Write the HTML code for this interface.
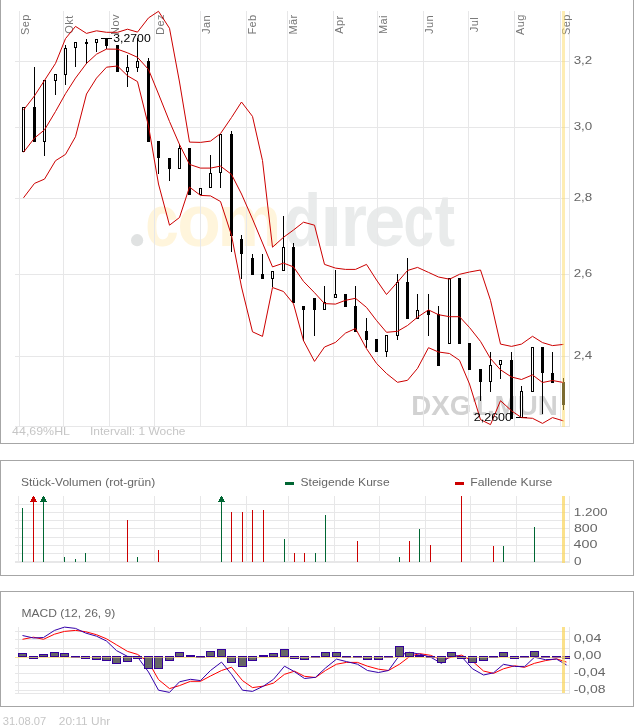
<!DOCTYPE html>
<html lang="de"><head><meta charset="utf-8"><title>DXG1.MUN Chart</title>
<style>html,body{margin:0;padding:0;background:#fff}svg{display:block}text{font-family:"Liberation Sans",Arial,sans-serif}</style>
</head><body>
<svg width="634" height="728" viewBox="0 0 634 728">
<rect x="0" y="0" width="634" height="728" fill="#fff"/>
<circle cx="137.1" cy="240.2" r="6.1" fill="#e0e2e2"/>
<text y="245.8" font-weight="bold" font-size="74"><tspan fill="#fff5dc"><tspan x="145.3" textLength="33.5" lengthAdjust="spacingAndGlyphs">c</tspan><tspan x="177.2" textLength="43.6" lengthAdjust="spacingAndGlyphs">o</tspan><tspan x="217.2" textLength="64.3" lengthAdjust="spacingAndGlyphs">m</tspan></tspan><tspan fill="#e9ebeb"><tspan x="283.9" textLength="37.0" lengthAdjust="spacingAndGlyphs">d</tspan><tspan x="319.7" textLength="23.1" lengthAdjust="spacingAndGlyphs">i</tspan><tspan x="340.9" textLength="25.9" lengthAdjust="spacingAndGlyphs">r</tspan><tspan x="363.9" textLength="41.3" lengthAdjust="spacingAndGlyphs">e</tspan><tspan x="403.6" textLength="30.4" lengthAdjust="spacingAndGlyphs">c</tspan><tspan x="434.8" textLength="20.3" lengthAdjust="spacingAndGlyphs">t</tspan></tspan></text>
<rect x="323" y="186" width="18" height="19.5" fill="#fff"/>
<text x="411.3" y="414.5" font-size="28" font-weight="bold" fill="#d2d2d2" textLength="146.5" lengthAdjust="spacingAndGlyphs">DXG1.MUN</text>
<g shape-rendering="crispEdges">
<rect x="0" y="0" width="1" height="444" fill="#a6a6a6"/>
<rect x="633" y="0" width="1" height="444" fill="#a6a6a6"/>
<rect x="0" y="443" width="634" height="1" fill="#a6a6a6"/>
<rect x="19" y="11" width="1" height="416" fill="#e7e7e8"/>
<rect x="63" y="11" width="1" height="416" fill="#e7e7e8"/>
<rect x="109" y="11" width="1" height="416" fill="#e7e7e8"/>
<rect x="154" y="11" width="1" height="416" fill="#e7e7e8"/>
<rect x="200" y="11" width="1" height="416" fill="#e7e7e8"/>
<rect x="246" y="11" width="1" height="416" fill="#e7e7e8"/>
<rect x="287" y="11" width="1" height="416" fill="#e7e7e8"/>
<rect x="333" y="11" width="1" height="416" fill="#e7e7e8"/>
<rect x="377" y="11" width="1" height="416" fill="#e7e7e8"/>
<rect x="423" y="11" width="1" height="416" fill="#e7e7e8"/>
<rect x="468" y="11" width="1" height="416" fill="#e7e7e8"/>
<rect x="514" y="11" width="1" height="416" fill="#e7e7e8"/>
<rect x="560" y="11" width="1" height="416" fill="#e7e7e8"/>
<rect x="569" y="11" width="1" height="416" fill="#e7e7e8"/>
<rect x="15" y="61" width="555" height="1" fill="#e7e7e8"/>
<rect x="15" y="127" width="555" height="1" fill="#e7e7e8"/>
<rect x="15" y="198" width="555" height="1" fill="#e7e7e8"/>
<rect x="15" y="274" width="555" height="1" fill="#e7e7e8"/>
<rect x="15" y="356" width="555" height="1" fill="#e7e7e8"/>
<rect x="15" y="426" width="555" height="1" fill="#e7e7e8"/>
</g>
<text transform="translate(29.2,24.5) rotate(-90)" font-size="11" letter-spacing="0.4" text-anchor="middle" fill="#777777">Sep</text>
<text transform="translate(73.2,24.5) rotate(-90)" font-size="11" letter-spacing="0.4" text-anchor="middle" fill="#777777">Okt</text>
<text transform="translate(119.2,24.5) rotate(-90)" font-size="11" letter-spacing="0.4" text-anchor="middle" fill="#777777">Nov</text>
<text transform="translate(164.2,24.5) rotate(-90)" font-size="11" letter-spacing="0.4" text-anchor="middle" fill="#777777">Dez</text>
<text transform="translate(210.2,24.5) rotate(-90)" font-size="11" letter-spacing="0.4" text-anchor="middle" fill="#777777">Jan</text>
<text transform="translate(256.2,24.5) rotate(-90)" font-size="11" letter-spacing="0.4" text-anchor="middle" fill="#777777">Feb</text>
<text transform="translate(297.2,24.5) rotate(-90)" font-size="11" letter-spacing="0.4" text-anchor="middle" fill="#777777">Mär</text>
<text transform="translate(343.2,24.5) rotate(-90)" font-size="11" letter-spacing="0.4" text-anchor="middle" fill="#777777">Apr</text>
<text transform="translate(387.2,24.5) rotate(-90)" font-size="11" letter-spacing="0.4" text-anchor="middle" fill="#777777">Mai</text>
<text transform="translate(433.2,24.5) rotate(-90)" font-size="11" letter-spacing="0.4" text-anchor="middle" fill="#777777">Jun</text>
<text transform="translate(478.2,24.5) rotate(-90)" font-size="11" letter-spacing="0.4" text-anchor="middle" fill="#777777">Jul</text>
<text transform="translate(524.2,24.5) rotate(-90)" font-size="11" letter-spacing="0.4" text-anchor="middle" fill="#777777">Aug</text>
<text transform="translate(570.2,24.5) rotate(-90)" font-size="11" letter-spacing="0.4" text-anchor="middle" fill="#777777">Sep</text>
<text x="573.7" y="63.5" font-size="11.5" fill="#666666" textLength="18.6" lengthAdjust="spacingAndGlyphs">3,2</text>
<text x="573.7" y="129.5" font-size="11.5" fill="#666666" textLength="18.6" lengthAdjust="spacingAndGlyphs">3,0</text>
<text x="573.7" y="200.5" font-size="11.5" fill="#666666" textLength="18.6" lengthAdjust="spacingAndGlyphs">2,8</text>
<text x="573.7" y="276.5" font-size="11.5" fill="#666666" textLength="18.6" lengthAdjust="spacingAndGlyphs">2,6</text>
<text x="573.7" y="358.5" font-size="11.5" fill="#666666" textLength="18.6" lengthAdjust="spacingAndGlyphs">2,4</text>
<text x="12.1" y="435" font-size="11" fill="#c6c6c6" textLength="57.9" lengthAdjust="spacingAndGlyphs">44,69%HL</text>
<text x="90" y="435" font-size="11" fill="#c6c6c6" textLength="95.5" lengthAdjust="spacingAndGlyphs">Intervall: 1 Woche</text>
<g shape-rendering="crispEdges">
<rect x="23" y="107" width="1" height="45" fill="#000"/>
<rect x="22" y="107" width="3" height="45" fill="#000"/>
<rect x="23" y="108" width="1" height="43" fill="#fff"/>
<rect x="34" y="67" width="1" height="75" fill="#000"/>
<rect x="33" y="107" width="3" height="35" fill="#000"/>
<rect x="44" y="80" width="1" height="76" fill="#000"/>
<rect x="43" y="80" width="3" height="62" fill="#000"/>
<rect x="44" y="81" width="1" height="60" fill="#fff"/>
<rect x="55" y="74" width="1" height="21" fill="#000"/>
<rect x="54" y="74" width="3" height="7" fill="#000"/>
<rect x="55" y="75" width="1" height="5" fill="#fff"/>
<rect x="65" y="45" width="1" height="40" fill="#000"/>
<rect x="64" y="48" width="3" height="27" fill="#000"/>
<rect x="65" y="49" width="1" height="25" fill="#fff"/>
<rect x="75" y="42" width="1" height="25" fill="#000"/>
<rect x="74" y="42" width="3" height="6" fill="#000"/>
<rect x="75" y="43" width="1" height="4" fill="#fff"/>
<rect x="86" y="39" width="1" height="25" fill="#000"/>
<rect x="85" y="42" width="3" height="2" fill="#000"/>
<rect x="96" y="39" width="1" height="13" fill="#000"/>
<rect x="95" y="39" width="3" height="4" fill="#000"/>
<rect x="96" y="40" width="1" height="2" fill="#fff"/>
<rect x="106" y="38" width="1" height="11" fill="#000"/>
<rect x="105" y="38" width="3" height="8" fill="#000"/>
<rect x="117" y="45" width="1" height="27" fill="#000"/>
<rect x="116" y="45" width="3" height="27" fill="#000"/>
<rect x="127" y="55" width="1" height="32" fill="#000"/>
<rect x="126" y="67" width="3" height="5" fill="#000"/>
<rect x="127" y="68" width="1" height="3" fill="#fff"/>
<rect x="137" y="38" width="1" height="34" fill="#000"/>
<rect x="136" y="61" width="3" height="7" fill="#000"/>
<rect x="137" y="62" width="1" height="5" fill="#fff"/>
<rect x="148" y="58" width="1" height="84" fill="#000"/>
<rect x="147" y="61" width="3" height="81" fill="#000"/>
<rect x="158" y="141" width="1" height="33" fill="#000"/>
<rect x="157" y="141" width="3" height="17" fill="#000"/>
<rect x="169" y="158" width="1" height="23" fill="#000"/>
<rect x="168" y="158" width="3" height="11" fill="#000"/>
<rect x="179" y="144" width="1" height="25" fill="#000"/>
<rect x="178" y="148" width="3" height="21" fill="#000"/>
<rect x="179" y="149" width="1" height="19" fill="#fff"/>
<rect x="189" y="148" width="1" height="47" fill="#000"/>
<rect x="188" y="148" width="3" height="47" fill="#000"/>
<rect x="200" y="188" width="1" height="7" fill="#000"/>
<rect x="199" y="188" width="3" height="7" fill="#000"/>
<rect x="200" y="189" width="1" height="5" fill="#fff"/>
<rect x="210" y="155" width="1" height="33" fill="#000"/>
<rect x="209" y="173" width="3" height="15" fill="#000"/>
<rect x="210" y="174" width="1" height="13" fill="#fff"/>
<rect x="220" y="134" width="1" height="54" fill="#000"/>
<rect x="219" y="134" width="3" height="39" fill="#000"/>
<rect x="220" y="135" width="1" height="37" fill="#fff"/>
<rect x="231" y="131" width="1" height="121" fill="#000"/>
<rect x="230" y="134" width="3" height="102" fill="#000"/>
<rect x="241" y="235" width="1" height="44" fill="#000"/>
<rect x="240" y="239" width="3" height="15" fill="#000"/>
<rect x="252" y="254" width="1" height="21" fill="#000"/>
<rect x="251" y="258" width="3" height="17" fill="#000"/>
<rect x="262" y="254" width="1" height="25" fill="#000"/>
<rect x="261" y="274" width="3" height="5" fill="#000"/>
<rect x="272" y="271" width="1" height="16" fill="#000"/>
<rect x="271" y="271" width="3" height="8" fill="#000"/>
<rect x="272" y="272" width="1" height="6" fill="#fff"/>
<rect x="283" y="216" width="1" height="55" fill="#000"/>
<rect x="282" y="247" width="3" height="24" fill="#000"/>
<rect x="283" y="248" width="1" height="22" fill="#fff"/>
<rect x="293" y="243" width="1" height="60" fill="#000"/>
<rect x="292" y="247" width="3" height="56" fill="#000"/>
<rect x="303" y="306" width="1" height="35" fill="#000"/>
<rect x="302" y="306" width="3" height="4" fill="#000"/>
<rect x="314" y="298" width="1" height="38" fill="#000"/>
<rect x="313" y="298" width="3" height="12" fill="#000"/>
<rect x="324" y="286" width="1" height="24" fill="#000"/>
<rect x="323" y="302" width="3" height="8" fill="#000"/>
<rect x="324" y="303" width="1" height="6" fill="#fff"/>
<rect x="335" y="270" width="1" height="28" fill="#000"/>
<rect x="334" y="294" width="3" height="4" fill="#000"/>
<rect x="335" y="295" width="1" height="2" fill="#fff"/>
<rect x="345" y="294" width="1" height="13" fill="#000"/>
<rect x="344" y="294" width="3" height="13" fill="#000"/>
<rect x="355" y="286" width="1" height="46" fill="#000"/>
<rect x="354" y="306" width="3" height="26" fill="#000"/>
<rect x="366" y="318" width="1" height="30" fill="#000"/>
<rect x="365" y="331" width="3" height="9" fill="#000"/>
<rect x="376" y="339" width="1" height="13" fill="#000"/>
<rect x="375" y="339" width="3" height="13" fill="#000"/>
<rect x="386" y="335" width="1" height="22" fill="#000"/>
<rect x="385" y="335" width="3" height="17" fill="#000"/>
<rect x="386" y="336" width="1" height="15" fill="#fff"/>
<rect x="397" y="274" width="1" height="66" fill="#000"/>
<rect x="396" y="282" width="3" height="54" fill="#000"/>
<rect x="397" y="283" width="1" height="52" fill="#fff"/>
<rect x="407" y="258" width="1" height="61" fill="#000"/>
<rect x="406" y="282" width="3" height="37" fill="#000"/>
<rect x="417" y="294" width="1" height="25" fill="#000"/>
<rect x="416" y="310" width="3" height="9" fill="#000"/>
<rect x="417" y="311" width="1" height="7" fill="#fff"/>
<rect x="428" y="294" width="1" height="42" fill="#000"/>
<rect x="427" y="310" width="3" height="5" fill="#000"/>
<rect x="438" y="306" width="1" height="60" fill="#000"/>
<rect x="437" y="314" width="3" height="52" fill="#000"/>
<rect x="449" y="278" width="1" height="66" fill="#000"/>
<rect x="448" y="278" width="3" height="66" fill="#000"/>
<rect x="449" y="279" width="1" height="64" fill="#fff"/>
<rect x="459" y="278" width="1" height="66" fill="#000"/>
<rect x="458" y="278" width="3" height="66" fill="#000"/>
<rect x="469" y="343" width="1" height="27" fill="#000"/>
<rect x="468" y="343" width="3" height="27" fill="#000"/>
<rect x="480" y="369" width="1" height="32" fill="#000"/>
<rect x="479" y="369" width="3" height="13" fill="#000"/>
<rect x="490" y="352" width="1" height="40" fill="#000"/>
<rect x="489" y="365" width="3" height="17" fill="#000"/>
<rect x="490" y="366" width="1" height="15" fill="#fff"/>
<rect x="500" y="360" width="1" height="19" fill="#000"/>
<rect x="499" y="360" width="3" height="5" fill="#000"/>
<rect x="500" y="361" width="1" height="3" fill="#fff"/>
<rect x="511" y="352" width="1" height="67" fill="#000"/>
<rect x="510" y="360" width="3" height="59" fill="#000"/>
<rect x="521" y="386" width="1" height="32" fill="#000"/>
<rect x="520" y="391" width="3" height="27" fill="#000"/>
<rect x="521" y="392" width="1" height="25" fill="#fff"/>
<rect x="532" y="347" width="1" height="45" fill="#000"/>
<rect x="531" y="347" width="3" height="45" fill="#000"/>
<rect x="532" y="348" width="1" height="43" fill="#fff"/>
<rect x="542" y="347" width="1" height="67" fill="#000"/>
<rect x="541" y="347" width="3" height="26" fill="#000"/>
<rect x="552" y="352" width="1" height="31" fill="#000"/>
<rect x="551" y="373" width="3" height="10" fill="#000"/>
<rect x="563" y="378" width="1" height="32" fill="#000"/>
<rect x="562" y="382" width="3" height="23" fill="#000"/>
<rect x="101" y="38" width="11" height="1" fill="#000"/>
<rect x="516" y="417" width="11" height="1" fill="#000"/>
</g>
<polyline points="23.5,110.1 34.5,95.8 44.5,80.4 55.5,63.4 65.5,38.6 75.5,26.4 86.5,33.4 96.5,30.8 106.5,32.3 117.5,32.3 127.5,29.2 137.5,32.1 148.5,17.9 158.5,11.3 169.5,28.3 179.5,82.0 189.5,142.1 200.5,142.4 210.5,141.1 220.5,133.6 231.5,117.5 241.5,102.0 252.5,116.4 262.5,160.6 272.5,247.2 283.5,237.3 293.5,230.0 303.5,222.2 314.5,225.2 324.5,264.4 335.5,268.1 345.5,269.4 355.5,269.4 366.5,264.4 376.5,280.0 386.5,294.5 397.5,282.1 407.5,270.5 417.5,267.4 428.5,272.4 438.5,277.0 449.5,279.2 459.5,274.3 469.5,272.0 480.5,270.0 490.5,300.3 500.5,344.1 511.5,346.4 521.5,344.1 532.5,336.3 542.5,342.6 552.5,345.6 563.5,344.4" fill="none" stroke="#cc0000" stroke-width="1.0" stroke-linejoin="round"/>
<polyline points="23.5,152.3 34.5,138.0 44.5,129.9 55.5,111.5 65.5,93.7 75.5,78.1 86.5,63.4 96.5,54.2 106.5,49.1 117.5,49.2 127.5,52.8 137.5,57.3 148.5,69.5 158.5,94.0 169.5,121.5 179.5,144.5 189.5,164.4 200.5,168.1 210.5,168.1 220.5,166.1 231.5,174.4 241.5,194.0 252.5,219.0 262.5,243.0 272.5,266.9 283.5,263.1 293.5,266.9 303.5,281.4 314.5,292.7 324.5,303.6 335.5,304.1 345.5,300.3 355.5,298.3 366.5,307.4 376.5,320.5 386.5,332.3 397.5,331.3 407.5,325.5 417.5,317.2 428.5,309.9 438.5,314.7 449.5,316.7 459.5,316.7 469.5,327.5 480.5,341.4 490.5,358.6 500.5,369.8 511.5,377.0 521.5,379.5 532.5,374.9 542.5,382.5 552.5,380.5 563.5,382.5" fill="none" stroke="#cc0000" stroke-width="1.0" stroke-linejoin="round"/>
<polyline points="23.5,197.8 34.5,183.4 44.5,179.1 55.5,160.7 65.5,154.4 75.5,136.7 86.5,94.0 96.5,78.1 106.5,67.2 117.5,66.0 127.5,75.8 137.5,81.6 148.5,126.0 158.5,184.0 169.5,225.2 179.5,217.5 189.5,187.1 200.5,195.4 210.5,195.9 220.5,201.5 231.5,235.3 241.5,287.0 252.5,331.8 262.5,336.4 272.5,287.5 283.5,291.5 293.5,303.8 303.5,340.7 314.5,361.4 324.5,347.0 335.5,342.4 345.5,333.1 355.5,328.5 366.5,348.7 376.5,363.4 386.5,373.5 397.5,382.3 407.5,380.3 417.5,368.4 428.5,347.7 438.5,352.0 449.5,353.5 459.5,360.3 469.5,384.0 480.5,419.6 490.5,424.6 500.5,400.7 511.5,410.8 521.5,417.6 532.5,418.3 542.5,423.4 552.5,417.6 563.5,420.9" fill="none" stroke="#cc0000" stroke-width="1.0" stroke-linejoin="round"/>
<text x="113.3" y="41.8" font-size="10.5" fill="#000" textLength="37.4" lengthAdjust="spacingAndGlyphs">3,2700</text>
<text x="473.8" y="420.9" font-size="10.5" fill="#000" textLength="38.2" lengthAdjust="spacingAndGlyphs">2,2600</text>
<rect x="562" y="11" width="3" height="416" fill="rgba(252,218,99,0.49)" shape-rendering="crispEdges"/>
<g shape-rendering="crispEdges">
<rect x="0" y="460" width="634" height="1" fill="#a6a6a6"/>
<rect x="0" y="575" width="634" height="1" fill="#a6a6a6"/>
<rect x="0" y="460" width="1" height="116" fill="#a6a6a6"/>
<rect x="633" y="460" width="1" height="116" fill="#a6a6a6"/>
<rect x="18" y="496" width="1" height="66" fill="#e7e7e8"/>
<rect x="63" y="496" width="1" height="66" fill="#e7e7e8"/>
<rect x="109" y="496" width="1" height="66" fill="#e7e7e8"/>
<rect x="154" y="496" width="1" height="66" fill="#e7e7e8"/>
<rect x="200" y="496" width="1" height="66" fill="#e7e7e8"/>
<rect x="246" y="496" width="1" height="66" fill="#e7e7e8"/>
<rect x="288" y="496" width="1" height="66" fill="#e7e7e8"/>
<rect x="334" y="496" width="1" height="66" fill="#e7e7e8"/>
<rect x="379" y="496" width="1" height="66" fill="#e7e7e8"/>
<rect x="425" y="496" width="1" height="66" fill="#e7e7e8"/>
<rect x="470" y="496" width="1" height="66" fill="#e7e7e8"/>
<rect x="516" y="496" width="1" height="66" fill="#e7e7e8"/>
<rect x="569" y="496" width="1" height="66" fill="#e7e7e8"/>
<rect x="15" y="504" width="555" height="1" fill="#e7e7e8"/>
<rect x="15" y="512" width="555" height="1" fill="#e7e7e8"/>
<rect x="15" y="520" width="555" height="1" fill="#e7e7e8"/>
<rect x="15" y="528" width="555" height="1" fill="#e7e7e8"/>
<rect x="15" y="537" width="555" height="1" fill="#e7e7e8"/>
<rect x="15" y="545" width="555" height="1" fill="#e7e7e8"/>
<rect x="15" y="553" width="555" height="1" fill="#e7e7e8"/>
<rect x="15" y="561" width="555" height="2" fill="#e7e7e8"/>
<rect x="22" y="508" width="1" height="54" fill="#006633"/>
<rect x="33" y="496" width="1" height="66" fill="#cc0000"/>
<rect x="43" y="496" width="1" height="66" fill="#006633"/>
<rect x="64" y="557" width="1" height="5" fill="#006633"/>
<rect x="75" y="559" width="1" height="3" fill="#006633"/>
<rect x="85" y="553" width="1" height="9" fill="#006633"/>
<rect x="127" y="520" width="1" height="42" fill="#cc0000"/>
<rect x="137" y="557" width="1" height="5" fill="#006633"/>
<rect x="158" y="550" width="1" height="12" fill="#cc0000"/>
<rect x="221" y="496" width="1" height="66" fill="#006633"/>
<rect x="231" y="512" width="1" height="50" fill="#cc0000"/>
<rect x="242" y="512" width="1" height="50" fill="#cc0000"/>
<rect x="252" y="510" width="1" height="52" fill="#cc0000"/>
<rect x="263" y="510" width="1" height="52" fill="#cc0000"/>
<rect x="284" y="539" width="1" height="23" fill="#006633"/>
<rect x="294" y="553" width="1" height="9" fill="#cc0000"/>
<rect x="304" y="553" width="1" height="9" fill="#cc0000"/>
<rect x="315" y="553" width="1" height="9" fill="#006633"/>
<rect x="325" y="515" width="1" height="47" fill="#006633"/>
<rect x="357" y="541" width="1" height="21" fill="#cc0000"/>
<rect x="399" y="557" width="1" height="5" fill="#006633"/>
<rect x="409" y="541" width="1" height="21" fill="#cc0000"/>
<rect x="419" y="529" width="1" height="33" fill="#006633"/>
<rect x="430" y="545" width="1" height="17" fill="#cc0000"/>
<rect x="461" y="496" width="1" height="66" fill="#cc0000"/>
<rect x="493" y="546" width="1" height="16" fill="#cc0000"/>
<rect x="503" y="546" width="1" height="16" fill="#006633"/>
<rect x="534" y="527" width="1" height="35" fill="#006633"/>
</g>
<g shape-rendering="crispEdges">
<rect x="33" y="496" width="1" height="1" fill="#cc0000"/>
<rect x="32" y="497" width="3" height="1" fill="#cc0000"/>
<rect x="32" y="498" width="3" height="1" fill="#cc0000"/>
<rect x="31" y="499" width="5" height="1" fill="#cc0000"/>
<rect x="31" y="500" width="5" height="1" fill="#cc0000"/>
<rect x="30" y="501" width="7" height="1" fill="#cc0000"/>
<rect x="43" y="496" width="1" height="1" fill="#006633"/>
<rect x="42" y="497" width="3" height="1" fill="#006633"/>
<rect x="42" y="498" width="3" height="1" fill="#006633"/>
<rect x="41" y="499" width="5" height="1" fill="#006633"/>
<rect x="41" y="500" width="5" height="1" fill="#006633"/>
<rect x="40" y="501" width="7" height="1" fill="#006633"/>
<rect x="221" y="496" width="1" height="1" fill="#006633"/>
<rect x="220" y="497" width="3" height="1" fill="#006633"/>
<rect x="220" y="498" width="3" height="1" fill="#006633"/>
<rect x="219" y="499" width="5" height="1" fill="#006633"/>
<rect x="219" y="500" width="5" height="1" fill="#006633"/>
<rect x="218" y="501" width="7" height="1" fill="#006633"/>
</g>
<rect x="562" y="496" width="3" height="67" fill="rgba(250,215,100,0.75)" shape-rendering="crispEdges"/>
<text x="21" y="485.9" font-size="11" fill="#666666" textLength="134.2" lengthAdjust="spacingAndGlyphs">Stück-Volumen (rot-grün)</text>
<rect x="285" y="482" width="9" height="3" fill="#006633" shape-rendering="crispEdges"/>
<text x="300.5" y="485.9" font-size="11" fill="#666666" textLength="89.1" lengthAdjust="spacingAndGlyphs">Steigende Kurse</text>
<rect x="455" y="482" width="9" height="3" fill="#cc0000" shape-rendering="crispEdges"/>
<text x="470.3" y="485.9" font-size="11" fill="#666666" textLength="82.1" lengthAdjust="spacingAndGlyphs">Fallende Kurse</text>
<text x="573.8" y="515.8" font-size="11.5" fill="#666666" textLength="33.8" lengthAdjust="spacingAndGlyphs">1.200</text>
<text x="574.0" y="531.6" font-size="11.5" fill="#666666" textLength="23.6" lengthAdjust="spacingAndGlyphs">800</text>
<text x="573.6" y="548.4" font-size="11.5" fill="#666666" textLength="23.8" lengthAdjust="spacingAndGlyphs">400</text>
<text x="574.0" y="564.5" font-size="11.5" fill="#666666" textLength="7.5" lengthAdjust="spacingAndGlyphs">0</text>
<g shape-rendering="crispEdges">
<rect x="0" y="591" width="634" height="1" fill="#a6a6a6"/>
<rect x="0" y="706" width="634" height="1" fill="#a6a6a6"/>
<rect x="0" y="591" width="1" height="116" fill="#a6a6a6"/>
<rect x="633" y="591" width="1" height="116" fill="#a6a6a6"/>
<rect x="18" y="627" width="1" height="67" fill="#e7e7e8"/>
<rect x="63" y="627" width="1" height="67" fill="#e7e7e8"/>
<rect x="109" y="627" width="1" height="67" fill="#e7e7e8"/>
<rect x="154" y="627" width="1" height="67" fill="#e7e7e8"/>
<rect x="200" y="627" width="1" height="67" fill="#e7e7e8"/>
<rect x="246" y="627" width="1" height="67" fill="#e7e7e8"/>
<rect x="288" y="627" width="1" height="67" fill="#e7e7e8"/>
<rect x="334" y="627" width="1" height="67" fill="#e7e7e8"/>
<rect x="379" y="627" width="1" height="67" fill="#e7e7e8"/>
<rect x="425" y="627" width="1" height="67" fill="#e7e7e8"/>
<rect x="470" y="627" width="1" height="67" fill="#e7e7e8"/>
<rect x="516" y="627" width="1" height="67" fill="#e7e7e8"/>
<rect x="569" y="627" width="1" height="67" fill="#e7e7e8"/>
<rect x="15" y="631" width="555" height="1" fill="#e7e7e8"/>
<rect x="15" y="639" width="555" height="1" fill="#e7e7e8"/>
<rect x="15" y="648" width="555" height="1" fill="#e7e7e8"/>
<rect x="15" y="665" width="555" height="1" fill="#e7e7e8"/>
<rect x="15" y="673" width="555" height="1" fill="#e7e7e8"/>
<rect x="15" y="682" width="555" height="1" fill="#e7e7e8"/>
<rect x="15" y="690" width="555" height="1" fill="#e7e7e8"/>
<rect x="15" y="657" width="555" height="1" fill="#f6e6a8"/>
<rect x="15" y="693" width="555" height="1" fill="#e7e7e8"/>
</g>
<polyline points="22.5,639.3 33.5,637.2 43.5,639.3 54.5,634.2 64.5,631.4 75.5,630.4 85.5,631.7 96.5,634.7 106.5,638.8 116.5,644.8 127.5,651.4 137.5,654.4 148.5,662.0 158.5,679.6 169.5,688.6 179.5,685.6 190.5,681.3 200.5,681.3 210.5,676.0 221.5,670.5 231.5,667.2 242.5,680.6 252.5,687.6 263.5,686.1 273.5,683.1 284.5,674.3 294.5,671.2 304.5,676.3 315.5,677.5 325.5,670.5 336.5,664.2 346.5,662.4 357.5,662.4 367.5,666.2 378.5,669.2 388.5,670.5 399.5,664.2 409.5,656.6 419.5,653.6 430.5,655.3 441.5,659.9 451.5,657.2 461.5,655.1 472.5,661.2 483.5,671.0 493.5,673.4 503.5,668.8 514.5,665.8 524.5,667.3 534.5,663.3 545.5,660.6 556.5,658.8 566.5,662.1" fill="none" stroke="#ff0000" stroke-width="1.0" stroke-linejoin="round"/>
<polyline points="22.5,635.5 33.5,638.0 43.5,637.5 54.5,630.4 64.5,627.1 75.5,628.4 85.5,633.0 96.5,636.2 106.5,641.0 116.5,650.6 127.5,656.4 137.5,656.9 148.5,672.0 158.5,690.2 169.5,692.4 179.5,681.8 190.5,679.3 200.5,680.6 210.5,670.5 221.5,662.1 231.5,674.3 242.5,690.2 252.5,691.4 263.5,686.1 273.5,679.3 284.5,666.2 294.5,671.7 304.5,678.5 315.5,677.3 325.5,668.0 336.5,659.1 346.5,661.6 357.5,664.2 367.5,670.5 378.5,672.5 388.5,670.5 399.5,655.3 409.5,652.3 419.5,654.1 430.5,657.1 441.5,663.4 451.5,655.1 461.5,656.6 472.5,668.8 483.5,675.0 493.5,672.8 503.5,664.3 514.5,666.4 524.5,666.7 534.5,657.2 545.5,659.7 556.5,659.1 566.5,664.9" fill="none" stroke="#3300aa" stroke-width="1.0" stroke-linejoin="round"/>
<g shape-rendering="crispEdges">
<rect x="18" y="653" width="9" height="4" fill="#330099"/>
<rect x="19" y="654" width="7" height="2" fill="#666666"/>
<rect x="29" y="656" width="9" height="3" fill="#330099"/>
<rect x="30" y="657" width="7" height="1" fill="#666666"/>
<rect x="39" y="654" width="9" height="3" fill="#330099"/>
<rect x="40" y="655" width="7" height="1" fill="#666666"/>
<rect x="50" y="652" width="9" height="5" fill="#330099"/>
<rect x="51" y="653" width="7" height="3" fill="#666666"/>
<rect x="60" y="653" width="9" height="4" fill="#330099"/>
<rect x="61" y="654" width="7" height="2" fill="#666666"/>
<rect x="71" y="656" width="9" height="2" fill="#330099"/>
<rect x="81" y="656" width="9" height="3" fill="#330099"/>
<rect x="82" y="657" width="7" height="1" fill="#666666"/>
<rect x="92" y="656" width="9" height="4" fill="#330099"/>
<rect x="93" y="657" width="7" height="2" fill="#666666"/>
<rect x="102" y="656" width="9" height="5" fill="#330099"/>
<rect x="103" y="657" width="7" height="3" fill="#666666"/>
<rect x="112" y="656" width="9" height="8" fill="#330099"/>
<rect x="113" y="657" width="7" height="6" fill="#666666"/>
<rect x="123" y="656" width="9" height="6" fill="#330099"/>
<rect x="124" y="657" width="7" height="4" fill="#666666"/>
<rect x="133" y="656" width="9" height="3" fill="#330099"/>
<rect x="134" y="657" width="7" height="1" fill="#666666"/>
<rect x="144" y="656" width="9" height="13" fill="#330099"/>
<rect x="145" y="657" width="7" height="11" fill="#666666"/>
<rect x="154" y="656" width="9" height="13" fill="#330099"/>
<rect x="155" y="657" width="7" height="11" fill="#666666"/>
<rect x="165" y="656" width="9" height="5" fill="#330099"/>
<rect x="166" y="657" width="7" height="3" fill="#666666"/>
<rect x="175" y="652" width="9" height="5" fill="#330099"/>
<rect x="176" y="653" width="7" height="3" fill="#666666"/>
<rect x="186" y="655" width="9" height="2" fill="#330099"/>
<rect x="196" y="656" width="9" height="2" fill="#330099"/>
<rect x="206" y="651" width="9" height="6" fill="#330099"/>
<rect x="207" y="652" width="7" height="4" fill="#666666"/>
<rect x="217" y="649" width="9" height="8" fill="#330099"/>
<rect x="218" y="650" width="7" height="6" fill="#666666"/>
<rect x="227" y="656" width="9" height="7" fill="#330099"/>
<rect x="228" y="657" width="7" height="5" fill="#666666"/>
<rect x="238" y="656" width="9" height="11" fill="#330099"/>
<rect x="239" y="657" width="7" height="9" fill="#666666"/>
<rect x="248" y="656" width="9" height="5" fill="#330099"/>
<rect x="249" y="657" width="7" height="3" fill="#666666"/>
<rect x="259" y="655" width="9" height="2" fill="#330099"/>
<rect x="269" y="653" width="9" height="4" fill="#330099"/>
<rect x="270" y="654" width="7" height="2" fill="#666666"/>
<rect x="280" y="649" width="9" height="8" fill="#330099"/>
<rect x="281" y="650" width="7" height="6" fill="#666666"/>
<rect x="290" y="656" width="9" height="3" fill="#330099"/>
<rect x="291" y="657" width="7" height="1" fill="#666666"/>
<rect x="300" y="656" width="9" height="4" fill="#330099"/>
<rect x="301" y="657" width="7" height="2" fill="#666666"/>
<rect x="311" y="656" width="9" height="2" fill="#330099"/>
<rect x="321" y="652" width="9" height="5" fill="#330099"/>
<rect x="322" y="653" width="7" height="3" fill="#666666"/>
<rect x="332" y="652" width="9" height="5" fill="#330099"/>
<rect x="333" y="653" width="7" height="3" fill="#666666"/>
<rect x="342" y="656" width="9" height="2" fill="#330099"/>
<rect x="353" y="656" width="9" height="2" fill="#330099"/>
<rect x="363" y="656" width="9" height="4" fill="#330099"/>
<rect x="364" y="657" width="7" height="2" fill="#666666"/>
<rect x="374" y="656" width="9" height="4" fill="#330099"/>
<rect x="375" y="657" width="7" height="2" fill="#666666"/>
<rect x="384" y="656" width="9" height="2" fill="#330099"/>
<rect x="395" y="646" width="9" height="11" fill="#330099"/>
<rect x="396" y="647" width="7" height="9" fill="#666666"/>
<rect x="405" y="652" width="9" height="5" fill="#330099"/>
<rect x="406" y="653" width="7" height="3" fill="#666666"/>
<rect x="415" y="655" width="9" height="2" fill="#330099"/>
<rect x="426" y="656" width="9" height="2" fill="#330099"/>
<rect x="437" y="656" width="9" height="7" fill="#330099"/>
<rect x="438" y="657" width="7" height="5" fill="#666666"/>
<rect x="447" y="652" width="9" height="5" fill="#330099"/>
<rect x="448" y="653" width="7" height="3" fill="#666666"/>
<rect x="457" y="656" width="9" height="3" fill="#330099"/>
<rect x="458" y="657" width="7" height="1" fill="#666666"/>
<rect x="468" y="656" width="9" height="7" fill="#330099"/>
<rect x="469" y="657" width="7" height="5" fill="#666666"/>
<rect x="479" y="656" width="9" height="5" fill="#330099"/>
<rect x="480" y="657" width="7" height="3" fill="#666666"/>
<rect x="489" y="656" width="9" height="2" fill="#330099"/>
<rect x="499" y="652" width="9" height="5" fill="#330099"/>
<rect x="500" y="653" width="7" height="3" fill="#666666"/>
<rect x="510" y="656" width="9" height="3" fill="#330099"/>
<rect x="511" y="657" width="7" height="1" fill="#666666"/>
<rect x="520" y="656" width="9" height="2" fill="#330099"/>
<rect x="530" y="651" width="9" height="6" fill="#330099"/>
<rect x="531" y="652" width="7" height="4" fill="#666666"/>
<rect x="541" y="656" width="9" height="2" fill="#330099"/>
<rect x="552" y="656" width="9" height="2" fill="#330099"/>
<rect x="562" y="656" width="8" height="3" fill="#330099"/>
<rect x="563" y="657" width="6" height="1" fill="#666666"/>
<rect x="15" y="657" width="555" height="1" fill="rgba(255,225,120,0.55)"/>
</g>
<rect x="562" y="627" width="3" height="66" fill="rgba(250,215,100,0.75)" shape-rendering="crispEdges"/>
<text x="21.5" y="617.2" font-size="11" fill="#666666" textLength="93.8" lengthAdjust="spacingAndGlyphs">MACD (12, 26, 9)</text>
<text x="573.7" y="641.8" font-size="11.5" fill="#666666" textLength="27.6" lengthAdjust="spacingAndGlyphs">0,04</text>
<text x="573.7" y="658.7" font-size="11.5" fill="#666666" textLength="27.6" lengthAdjust="spacingAndGlyphs">0,00</text>
<text x="573.7" y="675.8" font-size="11.5" fill="#666666" textLength="31.8" lengthAdjust="spacingAndGlyphs">-0,04</text>
<text x="573.7" y="692.6" font-size="11.5" fill="#666666" textLength="31.8" lengthAdjust="spacingAndGlyphs">-0,08</text>
<text x="2.7" y="725" font-size="11" fill="#c6c6c6" textLength="43.5" lengthAdjust="spacingAndGlyphs">31.08.07</text>
<text x="58.8" y="725" font-size="11" fill="#c6c6c6" textLength="51.5" lengthAdjust="spacingAndGlyphs">20:11 Uhr</text>
</svg></body></html>
